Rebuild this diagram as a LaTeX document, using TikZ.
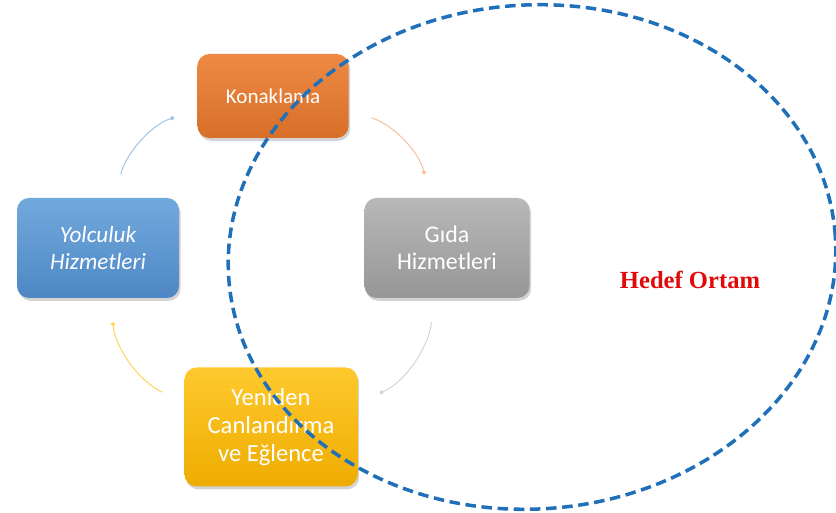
\documentclass[tikz,border=0pt]{standalone}
\usepackage{fontspec}
\setmainfont{Carlito}
\newfontfamily\baslikfont{Liberation Serif}
\usetikzlibrary{arrows.meta,shadows}

% Renkler
\definecolor{turuncuA}{HTML}{EE8A44}
\definecolor{turuncuB}{HTML}{D86F28}
\definecolor{maviA}{HTML}{72A9DD}
\definecolor{maviB}{HTML}{4E87C4}
\definecolor{griA}{HTML}{B8B8B8}
\definecolor{griB}{HTML}{969696}
\definecolor{sariA}{HTML}{FFC92E}
\definecolor{sariB}{HTML}{EEAC00}
\definecolor{kesik}{HTML}{1F70B8}
\definecolor{baslik}{HTML}{E00A0A}

\tikzset{
  kutu/.style={rounded corners=0.3cm, align=center, text=white,
    drop shadow={shadow xshift=0.04cm, shadow yshift=-0.07cm, opacity=0.35}},
  ok/.style={line width=0.7pt, -{Circle[length=3pt]}, bend left=30,
    shorten <=0.6cm, shorten >=0.6cm}
}

\begin{document}
\begin{tikzpicture}
    \useasboundingbox (0,0) rectangle (20.9,12.825);

    % Kutular (merkezler, cm cinsinden)
    \node[kutu, top color=turuncuA, bottom color=turuncuB,
      minimum width=3.78cm, minimum height=2.1cm,
      font=\fontsize{15}{18}\selectfont] (kon) at (6.825,10.425) {Konaklama};
    \node[kutu, top color=maviA, bottom color=maviB,
      minimum width=4.05cm, minimum height=2.5cm,
      font=\fontsize{16.5}{19}\selectfont\itshape] (yol) at (2.45,6.625) {Yolculuk\\Hizmetleri};
    \node[kutu, top color=griA, bottom color=griB,
      minimum width=4.125cm, minimum height=2.5cm,
      font=\fontsize{17}{19.5}\selectfont] (gida) at (11.175,6.625) {Gıda\\Hizmetleri};
    \node[kutu, top color=sariA, bottom color=sariB,
      minimum width=4.325cm, minimum height=2.975cm,
      font=\fontsize{17.5}{20}\selectfont] (yen) at (6.775,2.15) {Yeniden\\Canlandırma\\ve Eğlence};

    % Döngü okları (saat yönünde)
    \draw[ok, color=maviA!70!white] (yol) to (kon);
    \draw[ok, color=turuncuA!55!white] (kon) to (gida);
    \draw[ok, color=griA!60!white] (gida) to (yen);
    \draw[ok, color=sariA!80!white] (yen) to (yol);

    % Hedef ortam: kesikli elips
    \draw[kesik, line width=2.5pt, dash pattern=on 7.5pt off 4pt, rotate around={4:(13.3,6.4)}]
      (13.3,6.4) ellipse [x radius=7.6cm, y radius=6.3cm];
    \node[text=baslik, font=\baslikfont\bfseries\fontsize{17.5}{20}\selectfont] (hedef)
      at (17.25,5.825) {Hedef Ortam};
\end{tikzpicture}
\end{document}
